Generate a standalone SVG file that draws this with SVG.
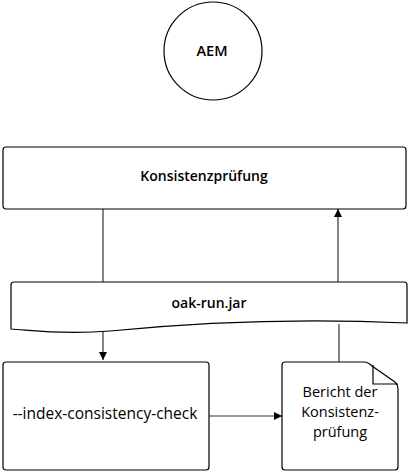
<svg xmlns="http://www.w3.org/2000/svg" width="409" height="472" viewBox="0 0 409 472">
<style>
.s{fill:#fff;stroke:#000;stroke-width:1.2}
.t{font-family:"Open Sans","Noto Sans",sans-serif;font-size:14px;font-weight:600;fill:#000;text-anchor:middle}
.n{font-family:"Open Sans","Noto Sans",sans-serif;font-size:15.5px;font-weight:400;fill:#000;text-anchor:middle}
.c{fill:none;stroke:#333;stroke-width:1.2}
</style>
<defs>
<marker id="a" viewBox="0 0 10 10" refX="10" refY="5" markerWidth="8" markerHeight="8" markerUnits="userSpaceOnUse" orient="auto">
<path d="M0,0 L10,5 L0,10 z" fill="#000"/>
</marker>
</defs>
<rect width="409" height="472" fill="#fff"/>
<g id="connectors">
<line class="c" x1="103" y1="209" x2="103" y2="282"/>
<line class="c" x1="103" y1="332" x2="103" y2="360" marker-end="url(#a)"/>
<line class="c" x1="339" y1="324" x2="339" y2="362"/>
<line class="c" x1="338" y1="282" x2="338" y2="209" marker-end="url(#a)"/>
<line class="c" x1="209" y1="416" x2="282" y2="416" marker-end="url(#a)"/>
</g>
<g id="aem">
<circle class="s" cx="213" cy="51" r="49"/>
<text class="t" x="212" y="56" style="font-size:14.5px">AEM</text>
</g>
<g id="konsistenzpruefung">
<rect class="s" x="3" y="147" width="403" height="62" rx="3"/>
<text class="t" x="204" y="181">Konsistenzprüfung</text>
</g>
<g id="oakrun">
<path class="s" d="M14,282 L404,282 Q407,282 407,285 L407,323 C300,318 200,322 110,331 C60,335 30,330 11,329 L11,285 Q11,282 14,282 Z"/>
<text class="t" x="209" y="308">oak-run.jar</text>
</g>
<g id="indexcheck">
<rect class="s" x="3" y="362" width="206" height="108" rx="3"/>
<text class="n" x="105" y="419">--index-consistency-check</text>
</g>
<g id="bericht">
<path class="s" d="M285,362 L364,362 Q368,362 372,366 L395,382 Q398,385 398,389 L398,467 Q398,470 395,470 L285,470 Q282,470 282,467 L282,365 Q282,362 285,362 Z"/>
<path class="s" d="M373,365 L373,384 L398,384" style="fill:none"/>
<text class="n" x="340" y="397" style="font-size:14.5px">Bericht der</text>
<text class="n" x="340" y="417" style="font-size:14.5px">Konsistenz-</text>
<text class="n" x="340" y="437" style="font-size:14.5px">prüfung</text>
</g>
</svg>
